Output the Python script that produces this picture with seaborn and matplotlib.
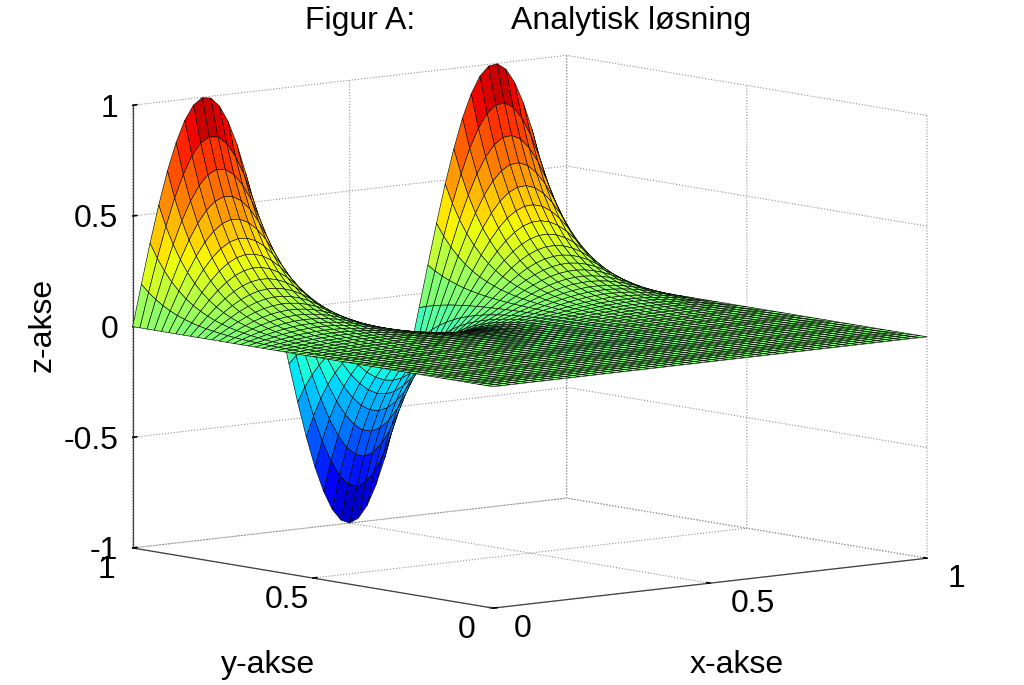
import numpy as np
import matplotlib
matplotlib.use('Agg')
import matplotlib.pyplot as plt
import seaborn as sns
from mpl_toolkits.mplot3d import proj3d

# grid of the surface, 51 lines each way
x_vals = np.linspace(0, 1, 51)
y_vals = np.linspace(0, 1, 51)

# height along the y=1 edge (x = 0 ... 1)
edge_profile = [0, .187, .368, .536, .685, .809, .905, .969, .998, .992,
                .951, .876, .771, .637, .482, .309, .125, -.063, -.249, -.426,
                -.588, -.729, -.844, -.930, -.982, -1.0, -.982, -.930, -.844, -.729,
                -.588, -.426, -.249, -.063, .125, .309, .482, .637, .771, .876,
                .951, .992, .998, .969, .905, .809, .685, .536, .368, .187, 0]

# how much of that height is left at each y (y = 0 ... 1), read from the row spacing
y_decay = [0, 0, 0, 0, 0, 0, 0, 0, 0, 0,
           .001, .001, .001, .001, .001, .001, .002, .002, .002, .003,
           .003, .004, .005, .006, .007, .009, .011, .013, .016, .019,
           .023, .028, .033, .040, .049, .059, .071, .086, .104, .126,
           .152, .183, .221, .267, .322, .389, .470, .568, .686, .828, 1.0]

x_ticks = [0, 0.5, 1]
y_ticks = [0, 0.5, 1]
z_ticks = [-1, -0.5, 0, 0.5, 1]
x_tick_labels = ['0', '0.5', '1']
y_tick_labels = ['0', '0.5', '1']
z_tick_labels = ['-1', '-0.5', '0', '0.5', '1']

sns.set_theme(style='white', font='Liberation Sans', rc={
    'grid.linestyle': ':', 'grid.color': '#909090', 'grid.linewidth': 0.8,
    'axes.unicode_minus': False, 'text.color': 'black', 'axes.labelcolor': 'black'})

W, H = 1024, 685
fig = plt.figure(figsize=(W / 100, H / 100), dpi=100)
ax = fig.add_subplot(projection='3d')
ax.set_proj_type('ortho')
ax.view_init(elev=7.96, azim=-129.7)
ax.set_box_aspect((564, 564, 447))

X, Y = np.meshgrid(x_vals, y_vals)
Z = np.outer(y_decay, edge_profile)

jet = matplotlib.colormaps['jet'].resampled(64)
ax.plot_surface(X, Y, Z, rstride=1, cstride=1, cmap=jet, vmin=-1.06, vmax=1.06,
                edgecolor='black', linewidth=0.42, shade=False, antialiased=True)

ax.set_xlim(0, 1, view_margin=0)
ax.set_ylim(0, 1, view_margin=0)
ax.set_zlim(-1, 1, view_margin=0)
ax.set_xticks(x_ticks, x_tick_labels)
ax.set_yticks(y_ticks, y_tick_labels)
ax.set_zticks(z_ticks, z_tick_labels)
ax.tick_params(labelsize=23, colors='black')
ax.tick_params(axis='x', pad=11)
ax.tick_params(axis='y', pad=12)
ax.tick_params(axis='z', pad=-2)

for axis in (ax.xaxis, ax.yaxis, ax.zaxis):
    axis.set_pane_color((1, 1, 1, 1))
    axis.pane.set_edgecolor('white')
    axis.line.set_color('#404040')
    axis.line.set_linewidth(0.9)
    axis._axinfo['tick']['inward_factor'] = 0.0
    axis._axinfo['tick']['outward_factor'] = 0.12

# tick label alignment, mplot3d centres them otherwise
for axis, ha, va in ((ax.xaxis, 'left', 'baseline'), (ax.yaxis, 'center', 'baseline'), (ax.zaxis, 'right', 'center_baseline')):
    for tick in axis.get_major_ticks():
        tick.label1.set_ha(ha)
        tick.label1.set_va(va)


# put the box where it sits in the picture (left and right floor corners)
def corner_px(cx, cy, cz):
    px, py, _ = proj3d.proj_transform(cx, cy, cz, ax.get_proj())
    return ax.transData.transform((px, py))


side = 900
ax.set_position([0, 0, side / W, side / H])
fig.canvas.draw()
a, b = corner_px(0, 1, -1), corner_px(1, 0, -1)
side = side * (927 - 132.7) / (b[0] - a[0])
ax.set_position([0, 0, side / W, side / H])
fig.canvas.draw()
a = corner_px(0, 1, -1)
ax.set_position([(132.7 - a[0]) / W, ((H - 548) - a[1]) / H, side / W, side / H])

fig.text(528 / W, 1 - 21 / H, 'Figur A:           Analytisk løsning',
         fontsize=23, ha='center', va='center')
fig.text(737 / W, 1 - 665 / H, 'x-akse', fontsize=23, ha='center', va='center')
fig.text(268 / W, 1 - 665 / H, 'y-akse', fontsize=23, ha='center', va='center')
fig.text(43 / W, 1 - 325 / H, 'z-akse', fontsize=23, ha='center', va='center', rotation=90)

fig.savefig('out.png', dpi=100)
